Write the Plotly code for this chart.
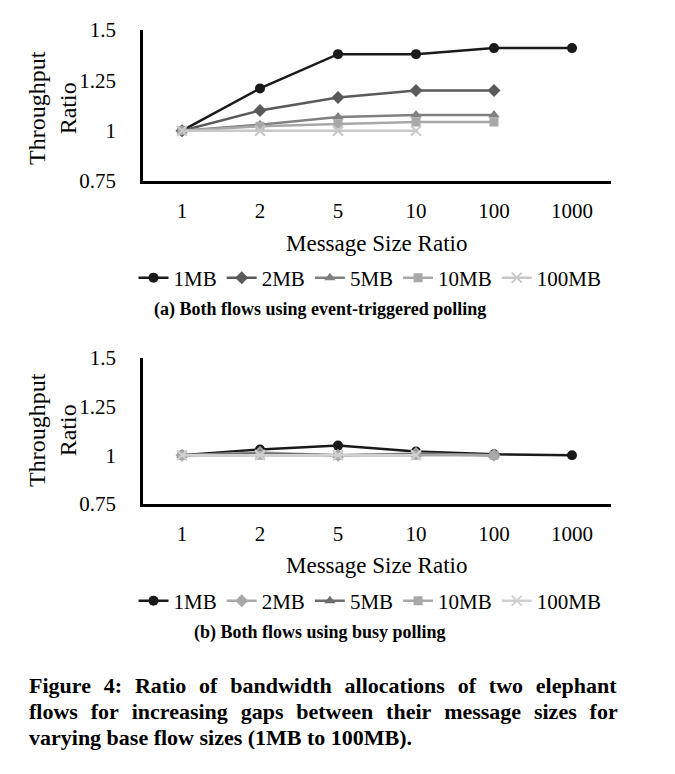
import plotly.graph_objects as go

categories = ["1", "2", "5", "10", "100", "1000"]
series_names = ["1MB", "2MB", "5MB", "10MB", "100MB"]

# Panel (a): event-triggered polling
a_1mb = [1.0, 1.21, 1.38, 1.38, 1.41, 1.41]
a_2mb = [1.0, 1.10, 1.165, 1.20, 1.20]
a_5mb = [1.0, 1.03, 1.068, 1.078, 1.078]
a_10mb = [1.0, 1.022, 1.033, 1.043, 1.043]
a_100mb = [1.0, 1.0, 1.0, 1.0]

# Panel (b): busy polling
b_1mb = [1.0, 1.03, 1.05, 1.02, 1.005, 1.0]
b_2mb = [1.0, 1.015, 1.0, 1.01, 1.0]
b_5mb = [1.0, 1.01, 1.0, 1.005, 1.0]
b_10mb = [1.0, 1.0, 1.0, 1.0, 1.0]
b_100mb = [1.0, 1.0, 1.0, 1.0]

y_ticks = [0.75, 1.0, 1.25, 1.5]
y_ticktext = ["0.75", "1", "1.25", "1.5"]

W, H = 675, 774
FONT = "Liberation Serif"

symbols = ["circle", "diamond", "triangle-up", "square", "x-thin-open"]
colors_a = ["#1a1a1a", "#5a5a5a", "#808080", "#a8a8a8", "#c8c8c8"]
colors_b = ["#1a1a1a", "#a8a8a8", "#6e6e6e", "#a8a8a8", "#d0d0d0"]
sizes = [10, 10, 10, 9, 10]

def py(px):
    return 1 - px / H

def px_x(px):
    return px / W

fig = go.Figure()

panels = [
    ([a_1mb, a_2mb, a_5mb, a_10mb, a_100mb], colors_a, "x", "y", "legend"),
    ([b_1mb, b_2mb, b_5mb, b_10mb, b_100mb], colors_b, "x2", "y2", "legend2"),
]
for vals_list, cols, xa, ya, lg in panels:
    for name, vals, col, sym, sz in zip(series_names, vals_list, cols, symbols, sizes):
        fig.add_trace(go.Scatter(
            x=categories[:len(vals)], y=vals, name=name, mode="lines+markers",
            line=dict(color=col, width=2.5),
            marker=dict(symbol=sym, size=sz, color=col,
                        line=dict(color=col, width=2 if sym.startswith("x") else 0)),
            xaxis=xa, yaxis=ya, legend=lg,
        ))

xdom = [px_x(143), px_x(611)]
common_x = dict(type="category", categoryorder="array", categoryarray=categories,
                range=[-0.5, 5.5], showgrid=False, zeroline=False, showline=True,
                linecolor="#000", linewidth=3, ticks="", ticklabelstandoff=9,
                automargin=False,
                tickfont=dict(family=FONT, size=21, color="#000"), fixedrange=True)
common_y = dict(range=[0.75, 1.5], tickvals=y_ticks, ticktext=y_ticktext,
                showgrid=False, zeroline=False, showline=True, linecolor="#000",
                linewidth=2.5, ticks="", ticklabelstandoff=20, automargin=False,
                tickfont=dict(family=FONT, size=21, color="#000"), fixedrange=True)

leg_common = dict(orientation="h", xanchor="center", yanchor="middle",
                  font=dict(family=FONT, size=21, color="#000"),
                  bgcolor="rgba(0,0,0,0)", itemwidth=30, tracegroupgap=0,
                  itemclick=False)

fig.update_layout(
    template="none",
    width=W, height=H, margin=dict(l=0, r=0, t=0, b=0, autoexpand=False),
    paper_bgcolor="white", plot_bgcolor="white", showlegend=True,
    xaxis=dict(domain=xdom, anchor="y", **common_x),
    yaxis=dict(domain=[py(181), py(30)], anchor="x", **common_y),
    xaxis2=dict(domain=xdom, anchor="y2", **common_x),
    yaxis2=dict(domain=[py(504), py(358)], anchor="x2", **common_y),
    legend=dict(x=px_x(370), y=py(278), **leg_common),
    legend2=dict(x=px_x(370), y=py(601), **leg_common),
)

annots = []
for ytitle_c, xtitle_c, cap_c, cap_text in [
    (108, 243, 309, "(a) Both flows using event-triggered polling"),
    (430, 565, 632, "(b) Both flows using busy polling"),
]:
    annots.append(dict(text="Throughput<br>Ratio", x=px_x(52), y=py(ytitle_c),
                       xref="paper", yref="paper", showarrow=False, textangle=-90,
                       font=dict(family=FONT, size=24, color="#000"),
                       xanchor="center", yanchor="middle"))
    annots.append(dict(text="Message Size Ratio", x=px_x(376), y=py(xtitle_c),
                       xref="paper", yref="paper", showarrow=False,
                       font=dict(family=FONT, size=23, color="#000"),
                       xanchor="center", yanchor="middle"))
    annots.append(dict(text="<b>" + cap_text + "</b>", x=px_x(320), y=py(cap_c),
                       xref="paper", yref="paper", showarrow=False,
                       font=dict(family=FONT, size=18, color="#000"),
                       xanchor="center", yanchor="middle"))

SP = "\u2002\u200a"
caption_lines = [
    SP.join("Figure 4: Ratio of bandwidth allocations of two elephant".split(" ")),
    SP.join("flows for increasing gaps between their message sizes for".split(" ")),
    "varying base flow sizes (1MB to 100MB).",
]
for i, line in enumerate(caption_lines):
    annots.append(dict(text="<b>" + line + "</b>", x=px_x(27), y=py(685 + 26 * i),
                       xref="paper", yref="paper", showarrow=False,
                       font=dict(family=FONT, size=22, color="#000"),
                       xanchor="left", yanchor="middle"))

fig.update_layout(annotations=annots)

fig.write_html("out.html")
